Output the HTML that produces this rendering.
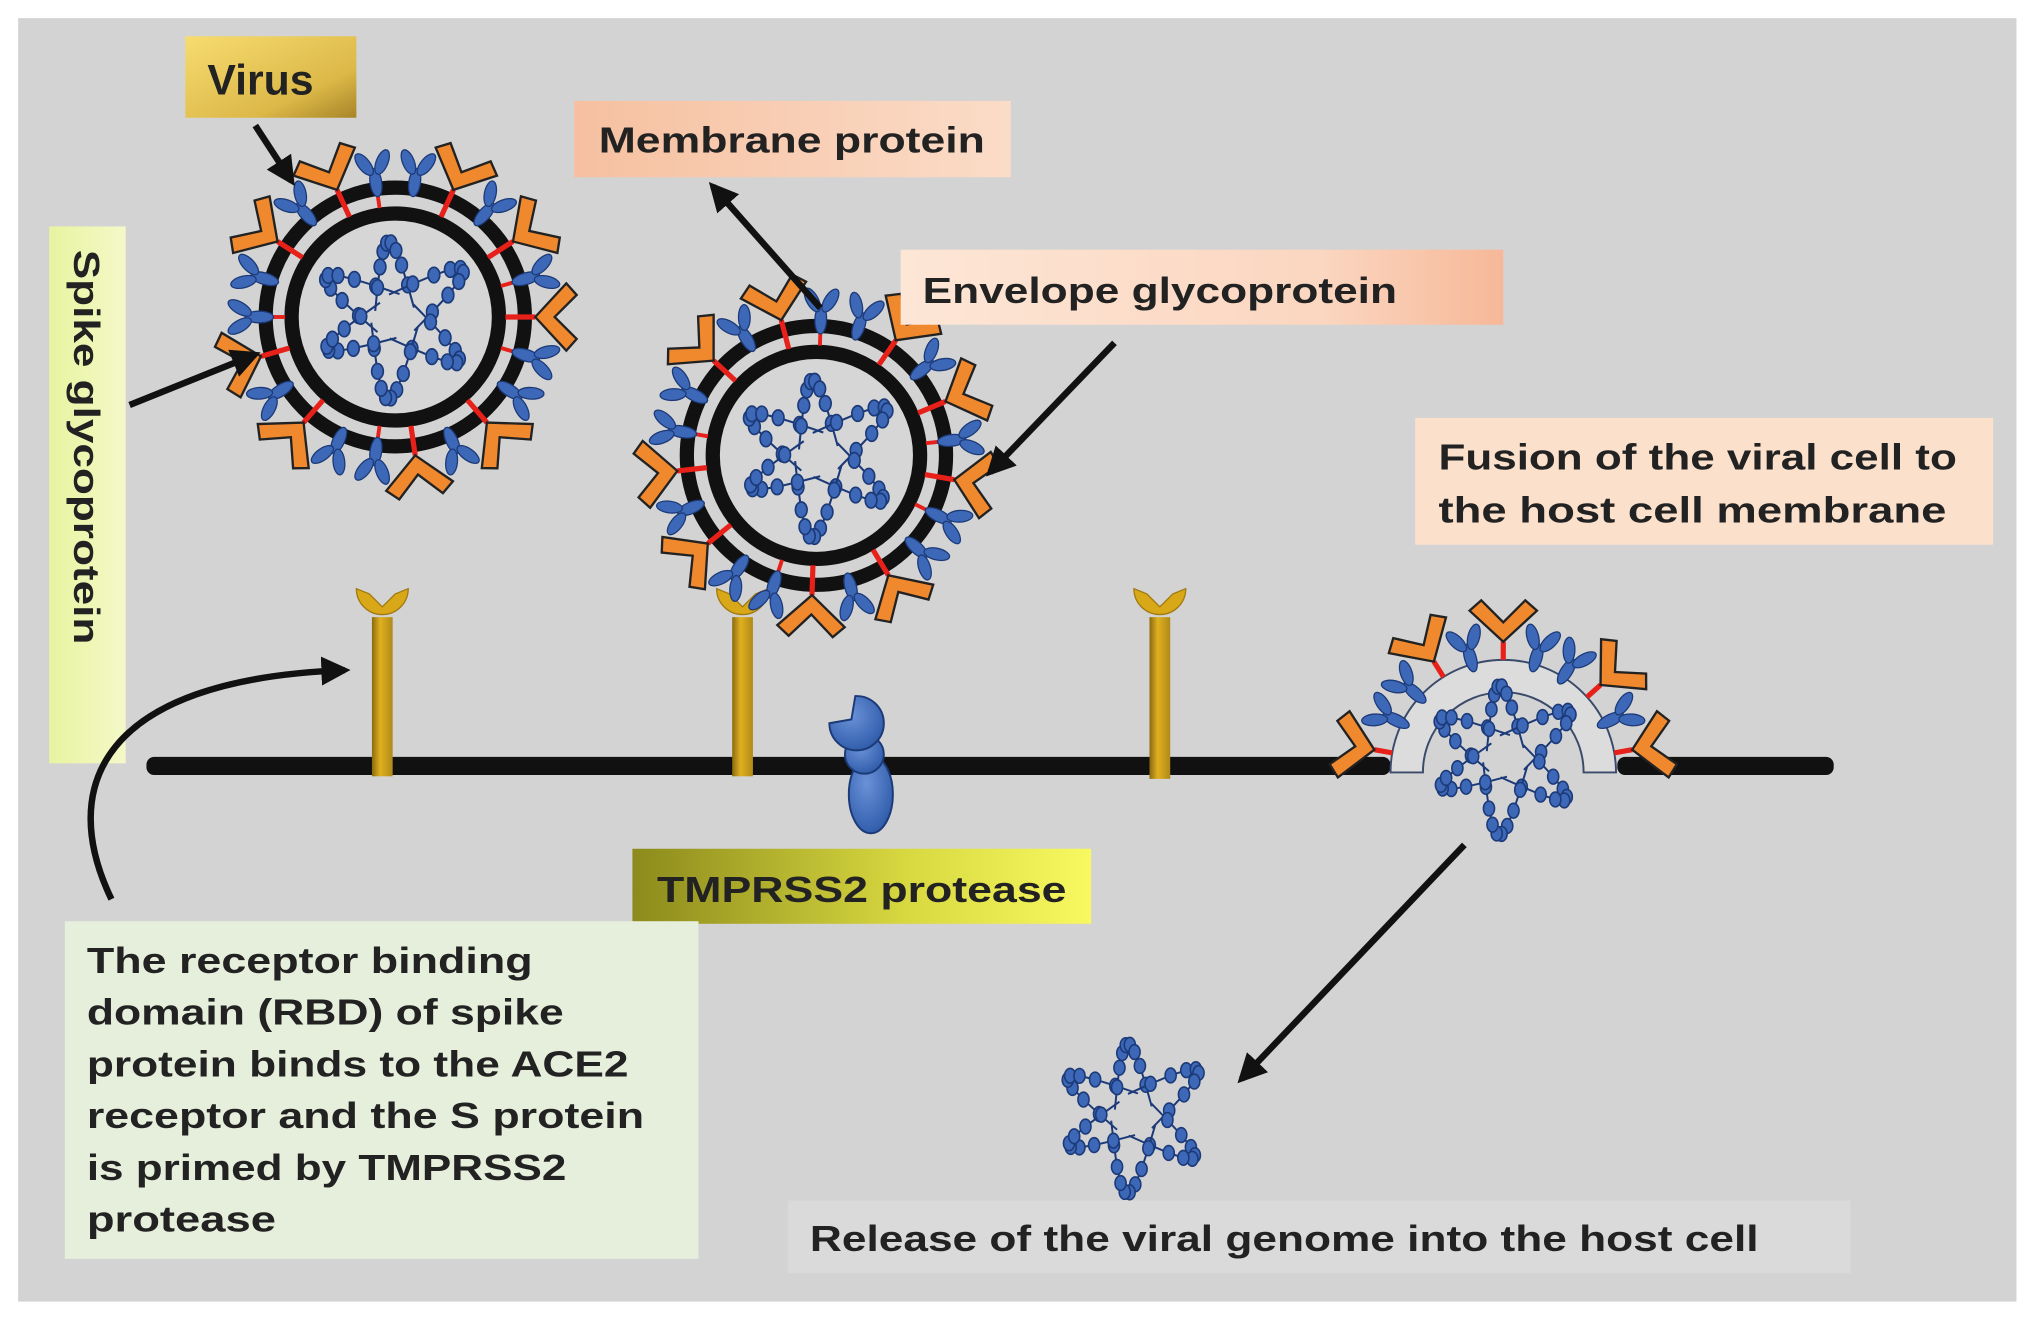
<!DOCTYPE html>
<html><head><meta charset="utf-8"><style>
html,body{margin:0;padding:0;background:#fff;}
svg{display:block;}
text{font-family:"Liberation Sans",sans-serif;font-weight:bold;fill:#222;}
</style></head><body>
<svg id="s" width="2032" height="1321" viewBox="0 0 1568 1021" preserveAspectRatio="none" xmlns="http://www.w3.org/2000/svg">
<defs>
<linearGradient id="gv" x1="0" y1="0" x2="1" y2="1"><stop offset="0" stop-color="#f7dc70"/><stop offset="0.7" stop-color="#dcb848"/><stop offset="1" stop-color="#a88428"/></linearGradient>
<linearGradient id="gm" x1="0" x2="1"><stop offset="0" stop-color="#f6c0a0"/><stop offset="1" stop-color="#fbdcc8"/></linearGradient>
<linearGradient id="ge" x1="0" x2="1"><stop offset="0" stop-color="#fde6d6"/><stop offset="0.7" stop-color="#fbd6c0"/><stop offset="1" stop-color="#f6b898"/></linearGradient>
<linearGradient id="gt" x1="0" x2="1"><stop offset="0" stop-color="#8c8a1c"/><stop offset="0.6" stop-color="#d8d840"/><stop offset="1" stop-color="#f8f860"/></linearGradient>
<linearGradient id="gs" x1="0" x2="1"><stop offset="0" stop-color="#e8f4a0"/><stop offset="1" stop-color="#f4f8c8"/></linearGradient>
<linearGradient id="gold" x1="0" x2="1"><stop offset="0" stop-color="#8a6a10"/><stop offset="0.4" stop-color="#e0b020"/><stop offset="1" stop-color="#b08a18"/></linearGradient>
<radialGradient id="bl" cx="0.4" cy="0.35" r="0.7"><stop offset="0" stop-color="#6a92d8"/><stop offset="1" stop-color="#2e5aa8"/></radialGradient>
<marker id="ah" viewBox="0 0 10 10" refX="8" refY="5" markerWidth="4.5" markerHeight="4.5" orient="auto"><path d="M0,0 L10,5 L0,10 Z" fill="#111"/></marker>
</defs>
<rect x="14" y="14" width="1542" height="992" fill="#d3d3d3"/>
<rect x="113" y="585" width="960" height="14" rx="6" fill="#111"/>
<rect x="1248" y="585" width="167" height="14" rx="6" fill="#111"/>
<g id="dyn"></g>
<rect x="143" y="28" width="132" height="63" fill="url(#gv)"/>
<text x="160" y="73" font-size="33">Virus</text>
<rect x="443" y="78" width="337" height="59" fill="url(#gm)"/>
<text x="462" y="118" font-size="28" textLength="298" lengthAdjust="spacingAndGlyphs">Membrane protein</text>
<rect x="695" y="193" width="465" height="58" fill="url(#ge)"/>
<text x="712" y="234" font-size="28" textLength="366" lengthAdjust="spacingAndGlyphs">Envelope glycoprotein</text>
<rect x="38" y="175" width="59" height="415" fill="url(#gs)"/>
<text transform="translate(57,193) rotate(90)" font-size="28" textLength="305" lengthAdjust="spacingAndGlyphs">Spike glycoprotein</text>
<rect x="1092" y="323" width="446" height="98" fill="#fbe0cc"/>
<text x="1110" y="363" font-size="28" textLength="400" lengthAdjust="spacingAndGlyphs">Fusion of the viral cell to</text>
<text x="1110" y="404" font-size="28" textLength="392" lengthAdjust="spacingAndGlyphs">the host  cell membrane</text>
<rect x="488" y="656" width="354" height="58" fill="url(#gt)"/>
<text x="507" y="697" font-size="28" textLength="316" lengthAdjust="spacingAndGlyphs">TMPRSS2 protease</text>
<rect x="50" y="712" width="489" height="261" fill="#e6eedc"/>
<g font-size="28">
<text x="67" y="752" textLength="344" lengthAdjust="spacingAndGlyphs">The receptor binding</text>
<text x="67" y="792" textLength="368" lengthAdjust="spacingAndGlyphs">domain (RBD) of spike</text>
<text x="67" y="832" textLength="418" lengthAdjust="spacingAndGlyphs">protein binds to the ACE2</text>
<text x="67" y="872" textLength="430" lengthAdjust="spacingAndGlyphs">receptor and the S protein</text>
<text x="67" y="912" textLength="370" lengthAdjust="spacingAndGlyphs">is primed by TMPRSS2</text>
<text x="67" y="952" textLength="146" lengthAdjust="spacingAndGlyphs">protease</text>
</g>
<rect x="608" y="928" width="820" height="56" fill="#dadada"/>
<text x="625" y="967" font-size="28" textLength="732" lengthAdjust="spacingAndGlyphs">Release of the viral genome into the host cell</text>
<g stroke="#111" stroke-width="5" fill="none" marker-end="url(#ah)">
<line x1="197" y1="97" x2="225" y2="140"/>
<line x1="100" y1="313" x2="197" y2="274"/>
<line x1="633" y1="238" x2="550" y2="144"/>
<line x1="860" y1="265" x2="764" y2="365"/>
<path d="M86,695 C45,610 75,525 266,518"/>
<line x1="1130" y1="653" x2="958" y2="834"/>
</g>
</svg>
<script>
var NS="http://www.w3.org/2000/svg",D=document.getElementById("dyn");
function el(t,a,p){var e=document.createElementNS(NS,t);for(var k in a)e.setAttribute(k,a[k]);(p||D).appendChild(e);return e;}
function g(tr){return el("g",{transform:tr});}
function orange(x,y,th){var G=g("translate("+x+","+y+") rotate("+(th+90)+")");
 el("polygon",{points:"0,0 -26,-24 -17,-32 0,-15 17,-32 26,-24",fill:"#f0882e",stroke:"#222","stroke-width":1.8},G);}
function blueY(x,y,th){var G=g("translate("+x+","+y+") rotate("+(th+90)+")");
 var a={fill:"#3d68b8",stroke:"#1c3a78","stroke-width":1};
 el("ellipse",Object.assign({cx:0,cy:-9,rx:4.5,ry:11},a),G);
 el("ellipse",Object.assign({cx:-7,cy:-24,rx:4.5,ry:10,transform:"rotate(-30 -7 -24)"},a),G);
 el("ellipse",Object.assign({cx:7,cy:-24,rx:4.5,ry:10,transform:"rotate(30 7 -24)"},a),G);}
function genome(cx,cy,s){var G=g("translate("+cx+","+cy+") scale("+s+")");
 var arms=[[-150,62,34],[-95,58,30],[-35,64,34],[35,60,32],[95,64,36],[155,58,30]];
 arms.forEach(function(a){var ang=a[0]*Math.PI/180,L=a[1],W=a[2],pts=[];
  for(var i=0;i<=9;i++){var t=i/9;
   var along=L*Math.sin(Math.PI*t)*0.9+6, side=W*(t-0.5);
   var x=along*Math.cos(ang)-side*Math.sin(ang),y=along*Math.sin(ang)+side*Math.cos(ang);pts.push([x,y]);}
  el("polyline",{points:pts.map(p=>p.join(",")).join(" "),fill:"none",stroke:"#1c3a78","stroke-width":1.6},G);
  pts.slice(1,9).forEach(function(p){el("ellipse",{cx:p[0],cy:p[1],rx:4.5,ry:6,fill:"#3d68b8",stroke:"#1c3a78","stroke-width":1.3},G);});
 });}
function virus(cx,cy,ri,ro,a0,a1,n,full){
 if(full){el("circle",{cx:cx,cy:cy,r:ro,fill:"none",stroke:"#111","stroke-width":11});
  el("circle",{cx:cx,cy:cy,r:ri,fill:"#d6d6d6",stroke:"#111","stroke-width":11});}
 for(var i=0;i<n;i++){var th=a0+(a1-a0)*i/(n-1+(full?1:0));var r=th*Math.PI/180,c=Math.cos(r),s=Math.sin(r);
  var k=i%5;
  if(k==0||k==3){el("line",{x1:cx+(full?ri+5:ro)*c,y1:cy+(full?ri+5:ro)*s,x2:cx+(ro+(full?8:14))*c,y2:cy+(ro+(full?8:14))*s,stroke:"#e8201a","stroke-width":4});
   orange(cx+(ro+(full?8:14))*c,cy+(ro+(full?8:14))*s,th);}
  else {if(full&&k==1)el("line",{x1:cx+(ri+5)*c,y1:cy+(ri+5)*s,x2:cx+(ro-6)*c,y2:cy+(ro-6)*s,stroke:"#e8201a","stroke-width":3});
   blueY(cx+(ro-4)*c,cy+(ro-4)*s,th);}
 }}
function receptor(x,top,bot){el("rect",{x:x-8,y:top+22,width:16,height:bot-top-22,fill:"url(#gold)"});
 el("path",{d:"M"+(x-20)+","+(top)+" A20,20 0 0 0 "+(x+20)+","+top+" L"+(x+10)+","+(top+4)+" L"+x+","+(top+14)+" L"+(x-10)+","+(top+4)+" Z",fill:"#d8a818",stroke:"#a07a10","stroke-width":1});}
receptor(295,455,600);receptor(573,455,600);receptor(895,455,602);
el("ellipse",{cx:672,cy:614,rx:17,ry:30,fill:"url(#bl)",stroke:"#1c3a78","stroke-width":1.5});
el("ellipse",{cx:667,cy:583,rx:15,ry:15,fill:"url(#bl)",stroke:"#1c3a78","stroke-width":1.5});
el("path",{d:"M660,538 A21,21 0 1 1 640,559 L657,556 Z",fill:"url(#bl)",stroke:"#1c3a78","stroke-width":1.5});
virus(305,245,80,100,0,360,22,true);genome(305,245,1.0);
virus(630,352,80,100,10,370,22,true);genome(632,352,1.0);
el("path",{d:"M1073,597 A87,87 0 0 1 1247,597 L1222,597 A62,62 0 0 0 1098,597 Z",fill:"#dcdcdc",stroke:"#3a4a6a","stroke-width":1.5});
virus(1160,597,62,87,190,350,11,false);
genome(1162,585,0.95);
genome(875,862,0.95);
</script>
</body></html>
